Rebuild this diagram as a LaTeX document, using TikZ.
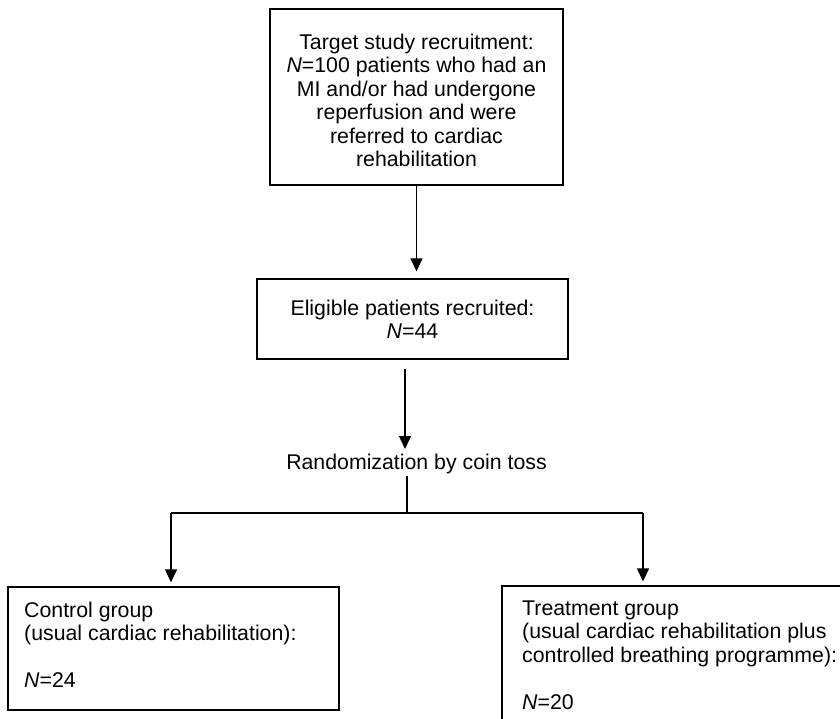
\documentclass[tikz,border=0pt]{standalone}
\usepackage{fontspec}
\setmainfont{Liberation Sans}
\usetikzlibrary{arrows.meta}
\tikzset{
  boxnode/.style={draw=black, line width=1.3pt, rectangle, inner sep=0pt},
  txt/.style={inner sep=0pt, font=\fontsize{21.3}{23.5}\selectfont, text=black},
  arr/.style={line width=1.3pt, -{Triangle[width=12pt,length=13pt]}},
  ln/.style={line width=1.3pt}
}
\begin{document}
\begin{tikzpicture}[x=1pt,y=-1pt]
\useasboundingbox (0,0) rectangle (840,719);
\clip (0,0) rectangle (840,719);
% boxes
\node[boxnode, minimum width=293pt, minimum height=176pt] (top) at (416.5,97) {};
\node[boxnode, minimum width=311pt, minimum height=80pt] (elig) at (412.5,319) {};
\node[boxnode, minimum width=331pt, minimum height=123pt] (ctrl) at (173.5,648.5) {};
\node[boxnode, minimum width=358pt, minimum height=154pt] (treat) at (681,663) {};
% texts
\node[txt, anchor=north, align=center] (toptext) at (416.5,32.5)
  {\strut Target study recruitment:\\ \textit{N}=100 patients who had an\\ MI and/or had undergone\\ reperfusion and were\\ referred to cardiac\\ rehabilitation};
\node[txt, anchor=north, align=center] (eligtext) at (412.5,298.5)
  {\strut Eligible patients recruited:\\ \textit{N}=44};
\node[txt, anchor=base] (rand) at (416.5,469) {Randomization by coin toss};
\node[txt, anchor=north west, align=left] (ctrltext) at (24,600.5)
  {\strut Control group\\ (usual cardiac rehabilitation):\\[23.5pt] \textit{N}=24};
\node[txt, anchor=north west, align=left] (treattext) at (522,598.5)
  {\strut Treatment group\\ (usual cardiac rehabilitation plus\\ controlled breathing programme):\\[23.5pt] \textit{N}=20};
% connector coordinates
\coordinate (a2s) at (405,369);
\coordinate (a2e) at (405,449);
\coordinate (rb) at (407,476);
\coordinate (split) at (407,513);
\coordinate (cl) at (171,513);
\coordinate (cr) at (643,513);
% connectors
\draw[arr, shorten >=7pt] (top.south) -- (top.south |- elig.north);
\draw[arr] (a2s) -- (a2e);
\draw[ln] (rb) -- (split);
\draw[ln] (cl) -- (cr);
\draw[arr, shorten >=4pt] (cl) -- (cl |- ctrl.north);
\draw[arr, shorten >=4pt] (cr) -- (cr |- treat.north);
\end{tikzpicture}
\end{document}
